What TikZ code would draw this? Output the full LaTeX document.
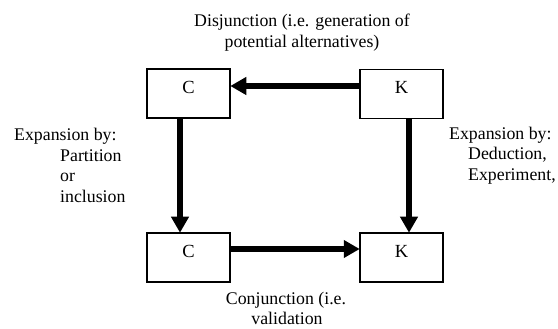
\documentclass[tikz,border=0pt]{standalone}
\usepackage{fontspec}
\setmainfont{Liberation Serif}
\usetikzlibrary{arrows.meta}

\tikzset{
  stagebox/.style={draw=black, line width=1.5pt, fill=white, inner sep=0pt,
    minimum width=83pt, minimum height=49pt},
  boxtext/.style={anchor=base, inner sep=0pt, font=\fontsize{18.5}{20.5}\selectfont},
  txt/.style={inner sep=0pt, font=\fontsize{17.8}{20.5}\selectfont},
  flow/.style={line width=5.5pt, -{Triangle[length=16pt,width=17pt]}, shorten >=-0.5pt}
}

\begin{document}
\begin{tikzpicture}[x=1pt, y=-1pt]
  \useasboundingbox (0,0) rectangle (558,329);

  % the four boxes
  \node[stagebox] (c1) at (188.5,93.5) {};
  \node[stagebox] (k1) at (401.5,94) {};
  \node[stagebox] (c2) at (188.5,257.5) {};
  \node[stagebox] (k2) at (401.5,257.5) {};

  \node[boxtext] (c1t) at ([yshift=-25pt]c1.north) {C};
  \node[boxtext] (k1t) at ([yshift=-25pt]k1.north) {K};
  \node[boxtext] (c2t) at ([yshift=-25pt]c2.north) {C};
  \node[boxtext] (k2t) at ([yshift=-25pt]k2.north) {K};

  % thick connectors
  \draw[flow] ([yshift=8pt]k1.west) -- ([yshift=7.5pt]c1.east);
  \draw[flow] ([xshift=-8.5pt]c1.south) -- ([xshift=-8.5pt]c2.north);
  \draw[flow] ([xshift=7.5pt]k1.south) -- ([xshift=7.5pt]k2.north);
  \draw[flow] ([yshift=8.5pt]c2.east) -- ([yshift=8.5pt]k2.west);

  % labels
  \node[txt, anchor=base] (dis1) at (302,27) {Disjunction (i.e. generation of};
  \node[txt, anchor=base] (dis2) at (302,47.5) {potential alternatives)};

  \node[txt, anchor=base west] (le1) at (14,141) {Expansion by:};
  \node[txt, anchor=base west] (le2) at (60,161.5) {Partition};
  \node[txt, anchor=base west] (le3) at (60,182) {or};
  \node[txt, anchor=base west] (le4) at (60,202.5) {inclusion};

  \node[txt, anchor=base west] (re1) at (449,139.5) {Expansion by:};
  \node[txt, anchor=base west] (re2) at (468,160) {Deduction,};
  \node[txt, anchor=base west] (re3) at (468,180.5) {Experiment,};

  \node[txt, anchor=base] (con1) at (286,304) {Conjunction (i.e.};
  \node[txt, anchor=base] (con2) at (287,324.5) {validation};
\end{tikzpicture}
\end{document}
